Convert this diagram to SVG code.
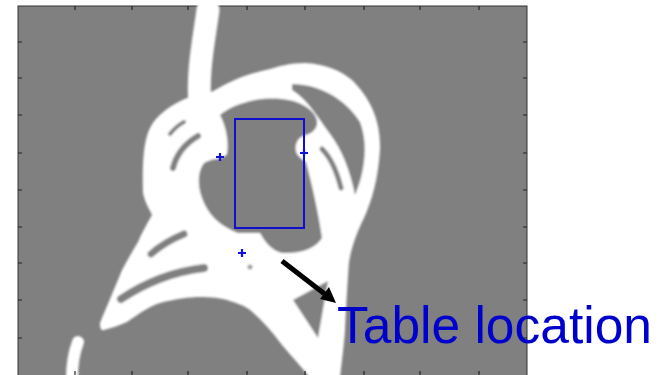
<svg xmlns="http://www.w3.org/2000/svg" width="664" height="375" viewBox="0 0 664 375">
<style>
.w{fill:none;stroke:#ffffff;stroke-linecap:round;stroke-linejoin:round}
.wf{fill:#ffffff}
.g{fill:#808080}
.gs{fill:none;stroke:#808080;stroke-linecap:round}
.tick{stroke:#222;stroke-width:1.2}
.mk{stroke:#1010e0;stroke-width:2.2;fill:none}
</style>
<defs>
<filter id="soft" x="-5%" y="-5%" width="110%" height="110%"><feGaussianBlur stdDeviation="0.9"/></filter>
</defs>
<rect width="664" height="375" fill="#ffffff"/>
<g id="plot">
<rect x="18" y="6" width="509" height="372" fill="#808080" stroke="#333" stroke-width="1"/>
</g>
<g id="blobs" filter="url(#soft)">
<path class="w" stroke-width="23" d="M208,10 C204,40 197,72 200,105"/>
<path class="wf" d="M187,98 C172,104 156,115 150,128 C144,140 142,160 143,193 C145,203 150,210 152,215 C147,224 142,232 138,242 C130,255 125,265 122,270 C114,290 106,308 100,323 C100,328 101,331 104,330 C112,328 120,325 127,322 C140,313 150,306 160,303 C175,299 190,297 200,297 C212,297 220,298 227,300 C237,303 245,306 250,310 C262,320 272,332 282,345 C292,357 302,367 310,378 L340,378 C342,360 344,345 345,330 C346,310 347,290 349,262 C352,245 358,230 364,218 C372,200 378,180 380,150 C381,120 370,98 352,80 C340,70 325,64 305,63 C290,63 280,66 270,69 C255,72 240,77 226,84 C218,88 212,92 205,95 Z"/>
<path class="w" stroke-width="12" d="M72,378 C72,362 75,350 78,342"/>
<path class="g" d="M220,115 C228,108 240,103 255,100 C275,97 292,99 303,105 C312,110 318,117 317,124 C316,131 310,134 303,136 C296,139 294,148 297,154 C300,158 303,160 306,162 C312,185 318,210 322,238 C316,248 302,254 282,253 C271,250 265,242 260,233 L238,233 C225,228 212,220 204,203 C197,188 197,172 204,163 C212,158 222,160 227,154 C229,142 226,126 220,115 Z"/>
<path class="g" d="M292,84 C318,84 345,98 360,122 C369,145 364,175 355,195 C350,170 342,150 330,134 C318,118 308,100 292,90 Z"/>
<path class="gs" stroke-width="5" d="M322,149 C331,158 337,172 341,188"/>
<path class="gs" stroke-width="4" d="M170,134 C174,129 178,125 184,122"/>
<path class="gs" stroke-width="6" d="M198,136 C186,143 177,152 173,168"/>
<path class="gs" stroke-width="7" d="M151,254 C161,245 172,239 184,234"/>
<path class="gs" stroke-width="8" d="M121,299 C145,283 170,272 204,268"/>
<path class="g" d="M293,300 L328,281 L318,338 Z"/>
<circle cx="250" cy="267" r="2.5" fill="#9a9a9a"/>
</g>
<g id="ticks">
<path class="tick" d="M18,42h4M18,78h4M18,115h4M18,153h4M18,190h4M18,227h4M18,263h4M18,300h4M18,338h4"/>
<path class="tick" d="M527,42h-4M527,78h-4M527,115h-4M527,153h-4M527,190h-4M527,227h-4M527,263h-4M527,300h-4M527,338h-4"/>
<path class="tick" d="M75,6v4M132,6v4M188,6v4M247,6v4M305,6v4M364,6v4M420,6v4M479,6v4"/>
<path class="tick" d="M75,375v-4M132,375v-4M188,375v-4M247,375v-4M305,375v-4M364,375v-4M420,375v-4M479,375v-4"/>
</g>
<g id="table-box">
<rect x="235" y="119" width="69" height="109" fill="none" stroke="#1010cc" stroke-width="2"/>
</g>
<g id="markers">
<path class="mk" d="M216,157h8M220,153v8"/>
<path class="mk" d="M300,153h8M304,149v8"/>
<path class="mk" d="M238,253h8M242,249v8"/>
</g>
<g id="connectors">
<line x1="282" y1="261" x2="326" y2="295" stroke="#000" stroke-width="5"/>
<polygon points="336,303 320,299 329,287" fill="#000"/>
</g>
<g id="label">
<text x="337" y="343" font-family="Liberation Sans, Arial, sans-serif" font-size="51.5" fill="#0000cc">Table location</text>
</g>
</svg>
